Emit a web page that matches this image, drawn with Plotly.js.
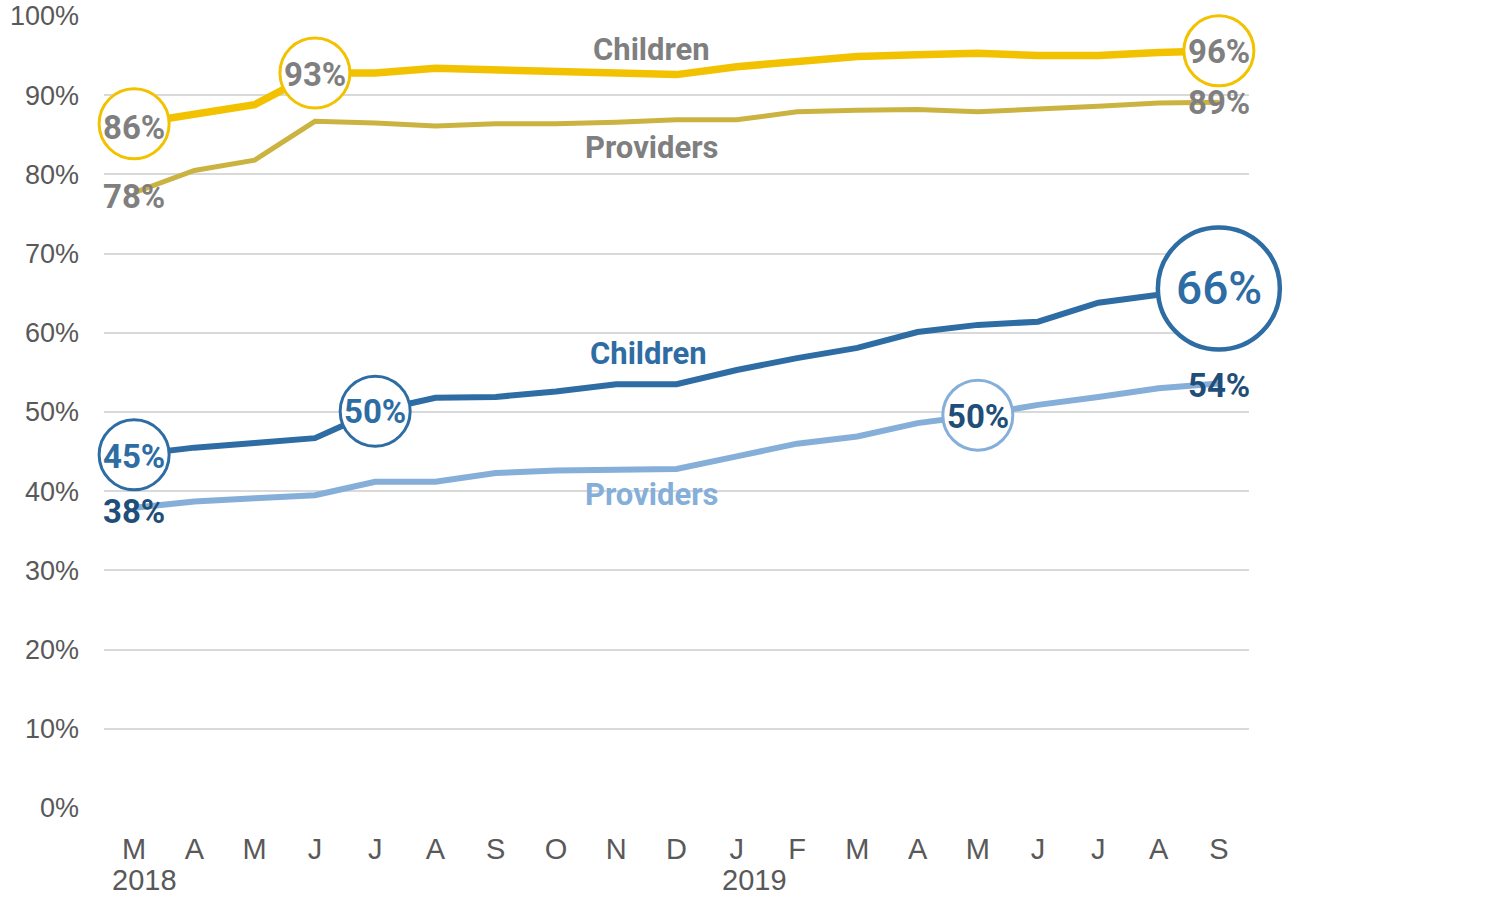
<!DOCTYPE html>
<html>
<head>
<meta charset="utf-8">
<script src="https://cdn.plot.ly/plotly-3.0.1.min.js"></script>
<style>html,body{margin:0;padding:0;background:#fff;}#chart{width:1497px;height:898px;}</style>
</head>
<body>
<div id="chart"></div>
<script>
// ---- data ----
const months = ['M','A','M','J','J','A','S','O','N','D','J','F','M','A','M','J','J','A','S'];
const yearLabels = ['2018', '2019'];
const yearIdx = [0, 10];
const qrChildren  = [86.4, 87.5, 88.8, 92.8, 92.8, 93.4, 93.2, 92.9, 92.9, 92.6, 93.6, 94.2, 94.9, 95.1, 95.3, 95.0, 95.0, 95.4, 95.6];
const qrProviders = [77.7, 80.5, 81.8, 86.7, 86.5, 86.1, 86.4, 86.4, 86.6, 86.9, 86.9, 87.9, 88.1, 88.2, 87.9, 88.2, 88.6, 89.0, 89.1];
const qChildren   = [44.6, 45.5, 46.1, 46.7, 50.1, 51.8, 51.9, 52.6, 53.5, 53.5, 55.3, 56.8, 58.1, 60.1, 61.0, 61.4, 63.8, 64.8, 65.6];
const qProviders  = [37.9, 38.7, 39.1, 39.5, 41.2, 41.2, 42.3, 42.6, 42.7, 42.8, 44.4, 46.0, 46.9, 48.6, 49.6, 50.9, 51.9, 53.0, 53.6];
const yTicks = [0,10,20,30,40,50,60,70,80,90,100];

const idx = months.map((_, i) => i);
const pct = v => Math.round(v) + '%';

const YELLOW = '#f2c200', OLIVE = '#cbb341', BLUE = '#2e6ca4', LIGHT = '#85afd9', DARK = '#1f4e79', GRAY = '#7f7f7f';
const BOLD = 'Roboto, "Liberation Sans", sans-serif';
const SANS = '"Liberation Sans", Arial, sans-serif';

function line(vals, color, width) {
  return {x: idx, y: vals, type: 'scatter', mode: 'lines', opacity: 1,
    line: {color: color, width: width}, hoverinfo: 'skip', cliponaxis: false};
}
function circles(vals, which, stroke, sizes) {
  return {
    x: which.map(i => i), y: which.map(i => vals[i]), type: 'scatter', mode: 'markers', opacity: 1,
    marker: {size: sizes, color: 'rgb(255,255,255)', opacity: 1, symbol: 'circle',
      line: {color: stroke, width: sizes[0] > 100 ? 4.5 : 3}},
    hoverinfo: 'skip', cliponaxis: false
  };
}

const traces = [
  line(qrProviders, OLIVE, 5),
  line(qrChildren, YELLOW, 7.5),
  line(qProviders, LIGHT, 6),
  line(qChildren, BLUE, 6),
  circles(qrChildren, [0, 3, 18], YELLOW, [70, 70, 70]),
  circles(qChildren, [0, 4], BLUE, [70, 70]),
  circles(qChildren, [18], BLUE, [122]),
  circles(qProviders, [14], LIGHT, [70])
];

function valLabel(vals, i, color, yshift, size, weight) {
  return {x: i, y: vals[i], xref: 'x', yref: 'y', text: pct(vals[i]), showarrow: false,
    xanchor: 'center', yanchor: 'middle', yshift: yshift,
    font: {family: BOLD, size: size || 33, color: color, weight: weight || 700}};
}
function nameLabel(text, px, py, color, size, anchor) {
  return {x: (px - 134) / 60.28, y: (808 - py) / 7.92, xref: 'x', yref: 'y', text: text, showarrow: false,
    xanchor: anchor || 'center', yanchor: 'middle', font: {family: BOLD, size: size, color: color, weight: 700}};
}

const annotations = [
  // circled values
  valLabel(qrChildren, 0, GRAY, -4),
  valLabel(qrChildren, 3, GRAY, -1),
  valLabel(qrChildren, 18, GRAY, -1),
  valLabel(qChildren, 0, BLUE, -2),
  valLabel(qChildren, 4, BLUE, 0),
  valLabel(qChildren, 18, BLUE, 0, 46, 500),
  valLabel(qProviders, 14, DARK, -1),
  // plain values
  valLabel(qrProviders, 0, GRAY, -4),
  valLabel(qrProviders, 18, GRAY, 0),
  valLabel(qProviders, 0, DARK, -4),
  valLabel(qProviders, 18, DARK, -2),
  // series names
  nameLabel('Children', 652, 49, GRAY, 31),
  nameLabel('Providers', 652, 147, GRAY, 31),
  nameLabel('Children', 649, 353, BLUE, 31),
  nameLabel('Providers', 652, 494, LIGHT, 31),
  nameLabel('QR Participating', 1254, 72, GRAY, 33, 'left'),
  nameLabel('Quality', 1283, 297, BLUE, 43, 'left'),
  nameLabel('Rated', 1283, 353, BLUE, 43, 'left')
];
yearLabels.forEach((t, k) => {
  annotations.push({x: yearIdx[k], y: 0, xref: 'x', yref: 'paper', text: t, showarrow: false,
    xanchor: 'center', yanchor: 'middle', xshift: k === 0 ? 10 : 18, yshift: -72, borderpad: 0,
    font: {family: SANS, size: 29, color: '#595959'}});
});

const layout = {
  width: 1497, height: 898,
  margin: {l: 104, r: 248, t: 16, b: 90, pad: 0},
  paper_bgcolor: '#ffffff', plot_bgcolor: '#ffffff',
  showlegend: false,
  xaxis: {range: [-0.5, 18.5], tickvals: idx, ticktext: months, showgrid: false, zeroline: false,
    showline: false, ticks: '', ticklabelstandoff: 21, tickfont: {family: SANS, size: 29, color: '#595959'}, fixedrange: true},
  yaxis: {range: [0, 100], tickvals: yTicks, ticktext: yTicks.map(v => v + '%'), showgrid: true,
    gridcolor: '#d9d9d9', gridwidth: 2, zeroline: false, showline: false, ticks: '', ticklabelstandoff: 24,
    tickfont: {family: SANS, size: 27, color: '#595959'}, fixedrange: true},
  annotations: annotations
};

Plotly.newPlot('chart', traces, layout, {displayModeBar: false, staticPlot: true});
</script>
</body>
</html>
